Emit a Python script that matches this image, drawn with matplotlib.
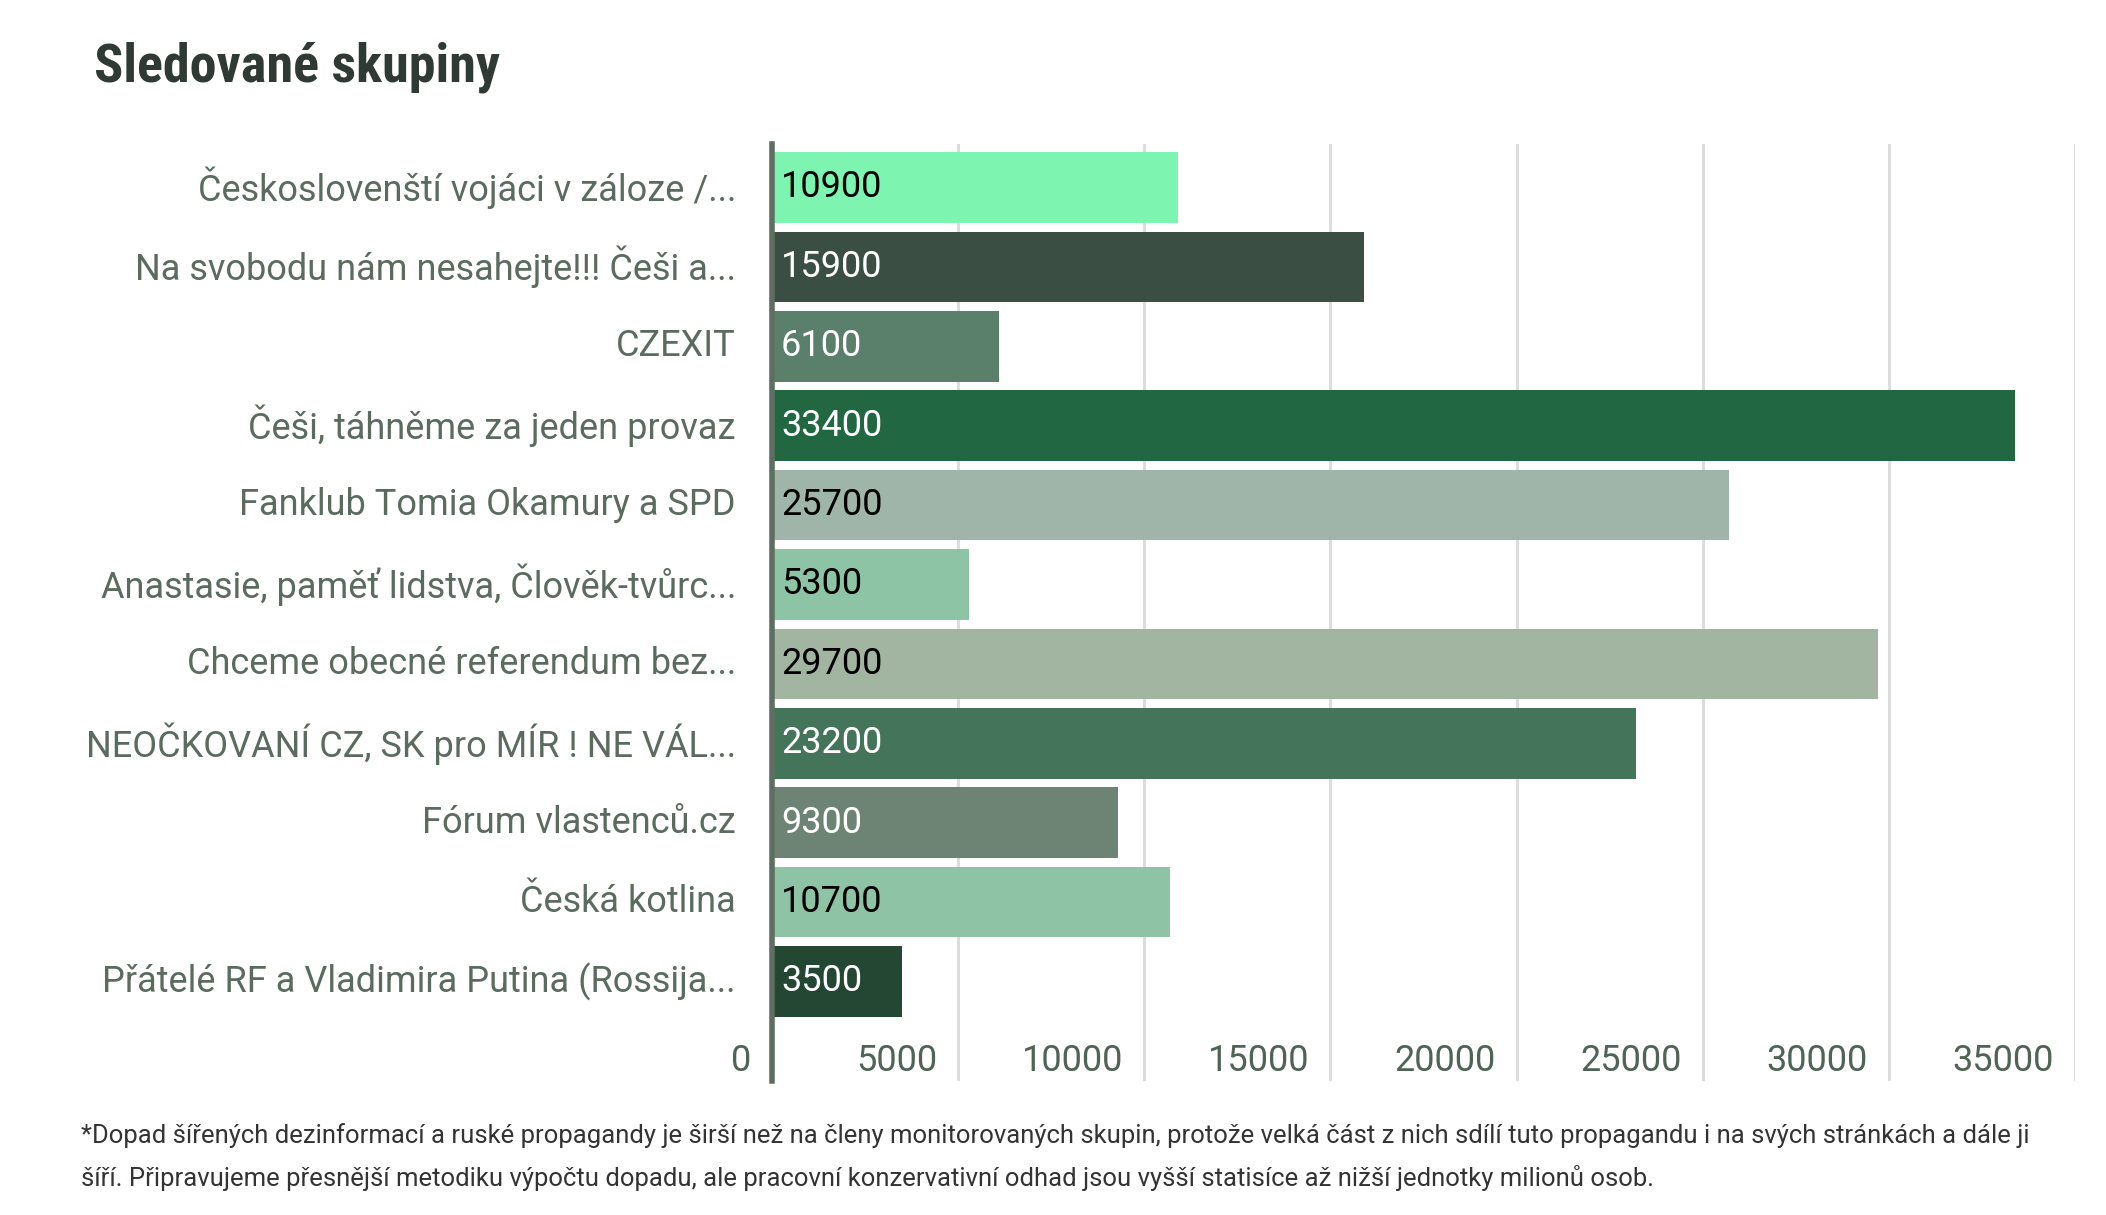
import matplotlib
matplotlib.use('Agg')
import matplotlib.pyplot as plt
import matplotlib.transforms as mtransforms

plt.rcParams['font.family'] = ['Roboto', 'DejaVu Sans']

# data
groups = [
    'Českoslovenští vojáci v záloze /...',
    'Na svobodu nám nesahejte!!! Češi a...',
    'CZEXIT',
    'Češi, táhněme za jeden provaz',
    'Fanklub Tomia Okamury a SPD',
    'Anastasie, paměť lidstva, Člověk-tvůrc...',
    'Chceme obecné referendum bez...',
    'NEOČKOVANÍ CZ, SK pro MÍR ! NE VÁL...',
    'Fórum vlastenců.cz',
    'Česká kotlina',
    'Přátelé RF a Vladimira Putina (Rossija...',
]
members = [10900, 15900, 6100, 33400, 25700, 5300, 29700, 23200, 9300, 10700, 3500]
bar_colors = ['#7df5b0', '#3b4e44', '#5a806c', '#216842', '#9fb5a9', '#8ec4a6',
              '#a2b5a1', '#44745a', '#6d8475', '#8ec3a5', '#244733']
text_colors = ['black', 'white', 'white', 'white', 'black', 'black',
               'black', 'white', 'white', 'black', 'white']
xticks = [0, 5000, 10000, 15000, 20000, 25000, 30000, 35000]

title = 'Sledované skupiny'
note1 = ('*Dopad šířených dezinformací a ruské propagandy je širší než na členy monitorovaných skupin, '
         'protože velká část z nich sdílí tuto propagandu i na svých stránkách a dále ji')
note2 = ('šíří. Připravujeme přesnější metodiku výpočtu dopadu, ale pracovní konzervativní odhad '
         'jsou vyšší statisíce až nižší jednotky milionů osob.')

fig = plt.figure(figsize=(21.06, 12.15), dpi=100)
fig.patch.set_facecolor('white')
ax = fig.add_axes([0.3666, 0.1103, 0.9853 - 0.3666, 0.8815 - 0.1103])

y = list(range(len(groups)))
ax.barh(y, members, height=0.89, color=bar_colors, zorder=2)

for yi, v, c in zip(y, members, text_colors):
    ax.annotate(str(v), (0, yi), xytext=(6.5, 0), textcoords='offset points',
                va='center', ha='left', fontsize=26, color=c, zorder=3)

ax.set_xlim(0, 35000)
ax.set_ylim(11.253, -0.548)

# vertical gridlines
for t in xticks[1:]:
    ax.axvline(t, color='#dddddd', lw=2.2, zorder=1)

# x tick labels sit in their own row, right-aligned left of each gridline
ax.set_xticks([])
off = mtransforms.offset_copy(ax.transData, fig=fig, x=-21, y=0, units='dots')
for t in xticks:
    ax.text(t, 11.0, str(t), transform=off, ha='right', va='center',
            fontsize=26, color='#4f6356')

ax.set_yticks(y)
ax.set_yticklabels(groups, fontsize=26, color='#5b6b5f', va='center')
ax.tick_params(axis='y', length=0, pad=26)

for s in ['top', 'right', 'bottom']:
    ax.spines[s].set_visible(False)
ax.spines['left'].set_color('#5f6e62')
ax.spines['left'].set_linewidth(4)
ax.spines['left'].set_zorder(4)

fig.text(0.0446, 0.9445, title, fontsize=39, fontweight='bold', color='#2e3a33',
         ha='left', va='center', family=['Roboto Condensed', 'Roboto'])
fig.text(0.0385, 0.0658, note1, fontsize=18.45, color='#333333', ha='left', va='center')
fig.text(0.0385, 0.0305, note2, fontsize=18.45, color='#333333', ha='left', va='center')

fig.savefig('out.png', dpi=100)
